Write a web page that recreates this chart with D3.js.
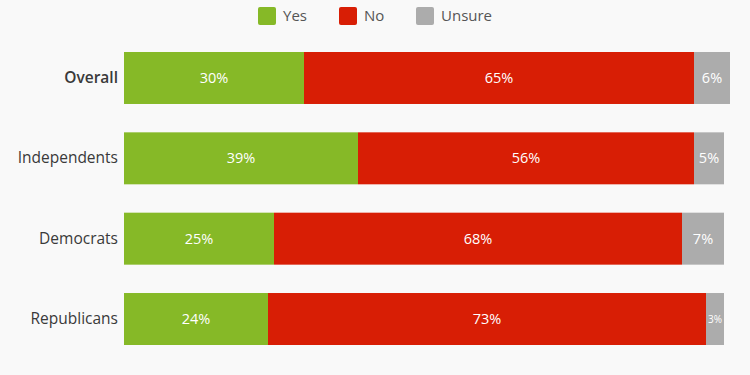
<!DOCTYPE html>
<html>
<head>
<meta charset="utf-8">
<script src="https://cdn.jsdelivr.net/npm/d3@7"></script>
<style>
  html, body { margin: 0; padding: 0; background: #f9f9f9; }
  svg { display: block; font-family: 'Open Sans', sans-serif; }
</style>
</head>
<body>
<svg id="chart" width="750" height="375"></svg>
<script>
// data
const groups = ['Overall', 'Independents', 'Democrats', 'Republicans'];
const series = ['Yes', 'No', 'Unsure'];
const yes = [30, 39, 25, 24];
const no = [65, 56, 68, 73];
const unsure = [6, 5, 7, 3];
const colors = ['#86b927', '#d81e05', '#acacac'];

const svg = d3.select('#chart');

const rows = groups.map((g, i) => ({ group: g, Yes: yes[i], No: no[i], Unsure: unsure[i] }));
const stacked = d3.stack().keys(series)(rows);

const x = d3.scaleLinear().domain([0, 101]).range([124, 730]);
const y = d3.scaleBand().domain(groups).range([52, 345]).paddingInner(0.353).paddingOuter(0);
const color = d3.scaleOrdinal().domain(series).range(colors);

// bars
const layer = svg.append('g')
  .selectAll('g')
  .data(stacked)
  .join('g')
  .attr('fill', d => color(d.key));

layer.selectAll('rect')
  .data(d => d)
  .join('rect')
  .attr('x', d => x(d[0]))
  .attr('y', d => y(d.data.group))
  .attr('width', d => x(d[1]) - x(d[0]))
  .attr('height', y.bandwidth());

// value labels
layer.selectAll('text')
  .data(d => d)
  .join('text')
  .attr('x', d => (x(d[0]) + x(d[1])) / 2)
  .attr('y', d => y(d.data.group) + y.bandwidth() / 2)
  .attr('dy', '0.35em')
  .attr('text-anchor', 'middle')
  .attr('fill', '#fff')
  .attr('font-size', d => (d[1] - d[0]) < 4 ? '10px' : '14.5px')
  .text(d => (d[1] - d[0]) + '%');

// category axis
const yAxis = svg.append('g')
  .attr('transform', `translate(${x(0)},0)`)
  .call(d3.axisLeft(y).tickSize(0).tickPadding(6));
yAxis.select('.domain').remove();
yAxis.selectAll('text')
  .attr('font-family', "'Open Sans', sans-serif")
  .attr('font-size', '15.5px')
  .attr('fill', '#3a3a3a')
  .attr('font-weight', d => d === 'Overall' ? 600 : 400);

// legend
const legendX = [258, 339, 416];
const legend = svg.append('g')
  .selectAll('g')
  .data(series)
  .join('g')
  .attr('transform', (d, i) => `translate(${legendX[i]},7)`);
legend.append('rect')
  .attr('width', 18).attr('height', 18).attr('rx', 2)
  .attr('fill', d => color(d));
legend.append('text')
  .attr('x', 25).attr('y', 9).attr('dy', '0.35em')
  .attr('font-size', '15px')
  .attr('fill', '#555')
  .text(d => d);
</script>
</body>
</html>
